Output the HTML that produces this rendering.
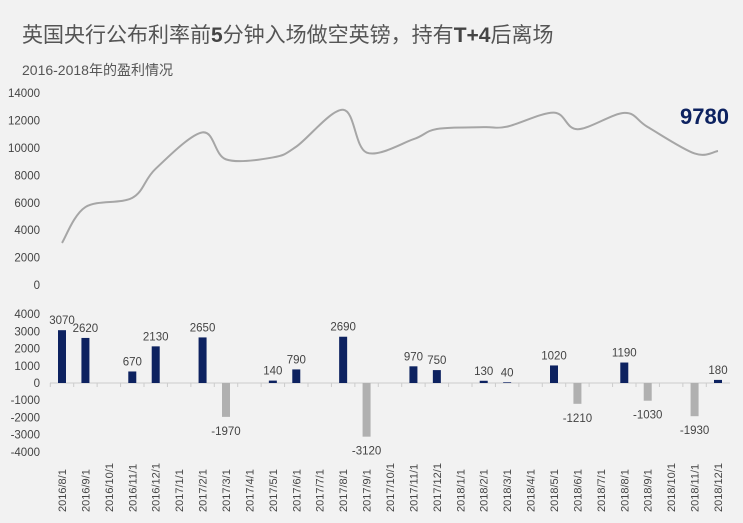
<!DOCTYPE html>
<html><head><meta charset="utf-8">
<style>
body{margin:0;background:#fff;}
#c{position:relative;width:743px;height:523px;background:#f2f2f2;font-family:"Liberation Sans","Noto Sans CJK SC",sans-serif;overflow:hidden}
.t{position:absolute;left:22px;top:19px;font-size:21px;color:#555;white-space:nowrap}
.s{position:absolute;left:22px;top:60px;font-size:14px;color:#555;white-space:nowrap}
</style></head><body>
<div id="c">
<div class="t">英国央行公布利率前<b style="color:#444">5</b>分钟入场做空英镑，持有<b style="color:#444">T+4</b>后离场</div>
<div class="s">2016-2018年的盈利情况</div>
<svg id="g" width="743" height="523" style="position:absolute;left:0;top:0" font-family="Liberation Sans, sans-serif"></svg>
</div>
<script>
var v=[3070,2620,0,670,2130,0,2650,-1970,0,140,790,0,2690,-3120,0,970,750,0,130,40,0,1020,-1210,0,1190,-1030,0,-1930,180];
var lab=[];for(var y=2016;y<=2018;y++)for(var m=1;m<=12;m++){if(y==2016&&m<8)continue;lab.push(y+"/"+m+"/1");}
var s='';var x0=62,dx=(718-62)/28;
for(var i=0;i<=7;i++){var yy=285-i*27.4;s+='<text x="40" y="'+(yy+4)+'" font-size="11.5" fill="#444" text-anchor="end">'+(i*2000)+'</text>';}
var c=0,pts=[];for(i=0;i<29;i++){c+=v[i];if(v[i]!==0||i==0)pts.push([x0+i*dx,285-c*27.4/2000]);}
var n=pts.length;
var d='M'+pts[0][0]+','+pts[0][1];
for(i=0;i<n-1;i++){var p0=pts[Math.max(0,i-1)],p1=pts[i],p2=pts[i+1],p3=pts[Math.min(n-1,i+2)];
d+=' C'+(p1[0]+(p2[0]-p0[0])/6)+','+(p1[1]+(p2[1]-p0[1])/6)+' '+(p2[0]-(p3[0]-p1[0])/6)+','+(p2[1]-(p3[1]-p1[1])/6)+' '+p2[0]+','+p2[1];}
s+='<path d="'+d+'" fill="none" stroke="#a6a6a6" stroke-width="2"/>';
s+='<text x="680" y="124" font-size="22" font-weight="bold" fill="#0d2260">9780</text>';
var z=383,k=17.2;
for(i=-4;i<=4;i++){s+='<text x="40" y="'+(z-i*k+4)+'" font-size="11.5" fill="#444" text-anchor="end">'+(i*1000)+'</text>';}
s+='<line x1="50" y1="'+z+'" x2="730" y2="'+z+'" stroke="#ccc"/>';
for(i=0;i<29;i++){var x=x0+i*dx;
s+='<line x1="'+(x-dx/2)+'" y1="'+z+'" x2="'+(x-dx/2)+'" y2="'+(z+4)+'" stroke="#ccc"/>';
if(v[i]){var h=Math.abs(v[i])*k/1000;
if(v[i]>0){s+='<rect x="'+(x-4)+'" y="'+(z-h)+'" width="8" height="'+h+'" fill="#0d2260"/>';
s+='<text x="'+x+'" y="'+(z-h-6)+'" font-size="11.5" fill="#444" text-anchor="middle">'+v[i]+'</text>';}
else{s+='<rect x="'+(x-4)+'" y="'+z+'" width="8" height="'+h+'" fill="#b0b0b0"/>';
s+='<text x="'+x+'" y="'+(z+h+18)+'" font-size="11.5" fill="#444" text-anchor="middle">'+v[i]+'</text>';}}
s+='<text transform="translate('+(x+4)+',512) rotate(-90)" font-size="11" fill="#444">'+lab[i]+'</text>';}
document.getElementById('g').innerHTML=s;
</script>
</body></html>
